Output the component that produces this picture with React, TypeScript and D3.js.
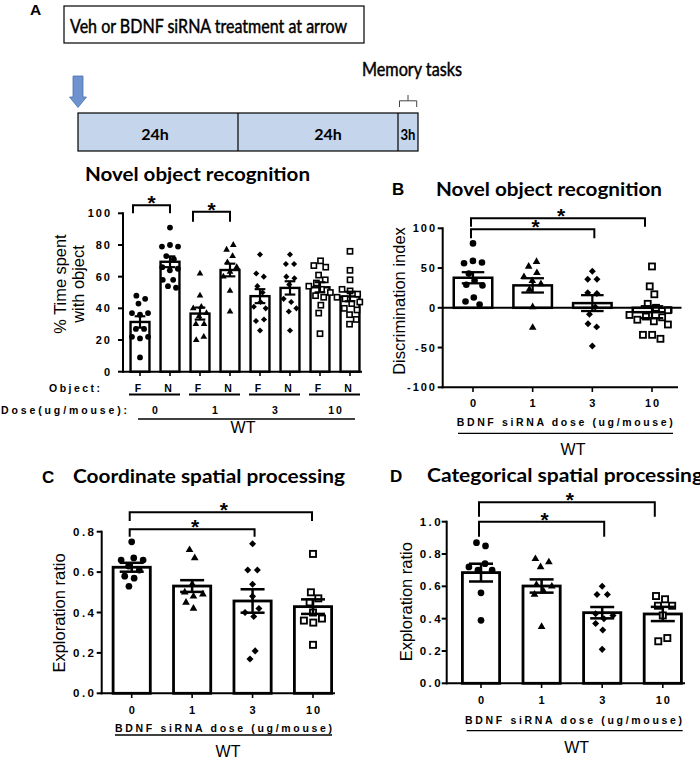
import React from 'react';
import * as d3 from 'd3';

// ---------- Panel A: Novel object recognition (% time spent) ----------
const norGroups = ['0F', '0N', '1F', '1N', '3F', '3N', '10F', '10N'];
const norObjects = ['F', 'N', 'F', 'N', 'F', 'N', 'F', 'N'];
const norDoses = ['0', '1', '3', '10'];
const norShapes = ['circle', 'circle', 'triangle', 'triangle', 'diamond', 'diamond', 'square', 'square'];
const norMeans = [31.4, 69.4, 36.7, 64.2, 47.7, 52.9, 53.3, 47.5];
const norSems = [3.6, 3.4, 3.8, 4.0, 4.4, 4.2, 3.2, 3.0];
const nor0F = [48, 46, 43, 37, 36, 37, 27, 27, 22, 22, 21, 9];
const nor0N = [91, 80, 79, 79, 73, 71, 66, 64, 65, 58, 58, 53, 54];
const nor1F = [62, 48, 41, 40, 37, 35, 30, 30, 22, 20];
const nor1N = [80, 77, 73, 69, 66, 63, 60, 51, 38];
const nor3F = [74, 62, 60, 54, 50, 44, 41, 40, 33, 32, 26];
const nor3N = [74, 68, 68, 60, 59, 55, 46, 44, 40, 38, 26];
const nor10F = [70, 67, 66, 61, 58, 56, 54, 52, 50, 48, 47, 42, 37, 24];
const nor10N = [76, 64, 58, 52, 51, 49, 47, 46, 44, 43, 40, 39, 36, 33, 30];
const norTicks = [0, 20, 40, 60, 80, 100];
const norSig = [['0F', '0N'], ['1F', '1N']];

// ---------- Shared dose categories ----------
const doseLabels = ['0', '1', '3', '10'];
const doseShapes = ['circle', 'triangle', 'diamond', 'square'];

// ---------- Panel B: Discrimination index ----------
const diMeans = [37.8, 28.2, 5.9, -5.5];
const diSems = [7, 9, 10, 7.5];
const di0 = [81, 59, 57, 56, 43, 34, 29, 28, 13, 8, 4];
const di1 = [58, 52, 44, 39, 34, 30, 23, 1, -25];
const di3 = [46, 36, 36, 19, 18, 1, -8, -20, -24, -48];
const di10 = [52, 27, 17, 5, 0, -3, -9, -11, -12, -15, -17, -21, -34, -34, -39];
const diTicks = [-100, -50, 0, 50, 100];

// ---------- Panel C: Coordinate spatial processing ----------
const coordMeans = [0.624, 0.531, 0.457, 0.429];
const coordSems = [0.022, 0.029, 0.058, 0.036];
const coord0 = [0.75, 0.67, 0.66, 0.66, 0.63, 0.61, 0.58, 0.57, 0.53];
const coord1 = [0.71, 0.67, 0.54, 0.5, 0.49, 0.48, 0.45, 0.42];
const coord3 = [0.74, 0.61, 0.61, 0.54, 0.48, 0.42, 0.4, 0.38, 0.21, 0.17];
const coord10 = [0.69, 0.5, 0.47, 0.45, 0.4, 0.37, 0.36, 0.35, 0.24];
const coordTicks = [0, 0.2, 0.4, 0.6, 0.8];

// ---------- Panel D: Categorical spatial processing ----------
const catMeans = [0.685, 0.602, 0.437, 0.429];
const catSems = [0.055, 0.041, 0.035, 0.044];
const cat0 = [0.87, 0.85, 0.74, 0.72, 0.7, 0.7, 0.56, 0.39];
const cat1 = [0.77, 0.75, 0.72, 0.61, 0.6, 0.57, 0.55, 0.35];
const cat3 = [0.6, 0.55, 0.55, 0.43, 0.42, 0.4, 0.37, 0.33, 0.21];
const cat10 = [0.54, 0.52, 0.48, 0.48, 0.42, 0.28, 0.26];
const catTicks = [0, 0.2, 0.4, 0.6, 0.8, 1.0];

const doseSig = [['0', '3'], ['0', '10']];

const AR = "'Liberation Sans', Arial, Helvetica, sans-serif";
const LT = "Lato, 'Open Sans', sans-serif";

function beeswarm(vals: number[], cx: number, y: (v: number) => number, rad: number) {
  const nodes: any[] = vals.map((v, i) => ({ x: cx + ((i % 3) - 1) * 0.4, y: y(v), fy: y(v) }));
  const sim = d3
    .forceSimulation(nodes)
    .force('x', d3.forceX(cx).strength(0.05))
    .force('c', d3.forceCollide(rad).iterations(3))
    .stop();
  for (let k = 0; k < 300; k++) sim.tick();
  return nodes.map((n) => [n.x, n.fy]);
}

function Marker({ shape, x, y, s }: { shape: string; x: number; y: number; s: number }) {
  if (shape === 'circle') return <circle cx={x} cy={y} r={s} fill="#000" />;
  if (shape === 'triangle') {
    const p = d3.symbol(d3.symbolTriangle, s * s * 2.3)() as string;
    return <path d={p} transform={`translate(${x},${y})`} fill="#000" />;
  }
  if (shape === 'diamond') {
    const r = s * 1.05;
    return <path d={`M${x},${y - r}L${x + r},${y}L${x},${y + r}L${x - r},${y}Z`} fill="#000" />;
  }
  return <rect x={x - s + 0.3} y={y - s + 0.3} width={2 * s - 0.6} height={2 * s - 0.6} fill="#fff" stroke="#000" strokeWidth={s * 0.55} />;
}

function BarSet(props: any) {
  const { groups, means, sems, points, shapes, x, y, bw, ms, sw, coll, cap } = props;
  const y0 = y(0);
  return (
    <g>
      {groups.map((g: string, i: number) => {
        const cx = x(g);
        const ym = y(means[i]);
        return (
          <rect key={'b' + g} x={cx - bw / 2 + sw / 2} y={Math.min(ym, y0)} width={bw - sw} height={Math.abs(y0 - ym)} fill="#fff" stroke="#000" strokeWidth={sw} />
        );
      })}
      {groups.map((g: string, i: number) => {
        const cx = x(g);
        return beeswarm(points[i], cx, y, coll).map((p, j) => <Marker key={g + 'p' + j} shape={shapes[i]} x={p[0]} y={p[1]} s={ms} />);
      })}
      {groups.map((g: string, i: number) => {
        const cx = x(g);
        const yt = y(means[i] + sems[i]);
        const yb = y(means[i] - sems[i]);
        const c = bw * cap;
        return (
          <g key={'e' + g} stroke="#000" strokeWidth={sw * 0.9}>
            <line x1={cx} x2={cx} y1={yt} y2={yb} />
            <line x1={cx - c / 2} x2={cx + c / 2} y1={yt} y2={yt} />
            <line x1={cx - c / 2} x2={cx + c / 2} y1={yb} y2={yb} />
          </g>
        );
      })}
    </g>
  );
}

function YAxis(props: any) {
  const { y, x0, ticks, fmt, fs, ls, tickLen, labelRight, sw } = props;
  const r = y.range();
  return (
    <g>
      <line x1={x0} x2={x0} y1={r[0] + sw / 2} y2={r[1] - sw / 2} stroke="#000" strokeWidth={sw} />
      {ticks.map((t: number) => (
        <g key={t}>
          <line x1={x0 - tickLen} x2={x0} y1={y(t)} y2={y(t)} stroke="#000" strokeWidth={sw} />
          <text x={labelRight + ls} y={y(t)} dy="0.36em" textAnchor="end" fontFamily={AR} fontWeight="bold" fontSize={fs} letterSpacing={ls}>
            {fmt(t)}
          </text>
        </g>
      ))}
    </g>
  );
}

function Star({ x, y, fs = 21 }: { x: number; y: number; fs?: number }) {
  return (
    <text x={x} y={y + 0.57 * fs} textAnchor="middle" fontFamily={AR} fontWeight="bold" fontSize={fs}>
      *
    </text>
  );
}

function Bracket({ x1, x2, yTop, yBot, starX, starY }: any) {
  return (
    <g>
      <path d={`M${x1},${yBot}V${yTop}H${x2}V${yBot}`} fill="none" stroke="#000" strokeWidth={2} />
      <Star x={starX} y={starY} />
    </g>
  );
}

function RotLabel({ lines, y, fs }: any) {
  return (
    <g>
      {lines.map((l: any, i: number) => (
        <text key={i} transform={`translate(${l.bx},${y}) rotate(-90)`} textAnchor="middle" fontFamily={AR} fontSize={fs}>
          {l.t}
        </text>
      ))}
    </g>
  );
}

export default function App() {
  const xA = d3.scalePoint<string>().domain(norGroups).range([140, 350]);
  const yA = d3.scaleLinear().domain([0, 100]).range([371.7, 213.3]);
  const norPoints = [nor0F, nor0N, nor1F, nor1N, nor3F, nor3N, nor10F, nor10N];

  const xB = d3.scalePoint<string>().domain(doseLabels).range([473, 652]);
  const yB = d3.scaleLinear().domain([-100, 100]).range([387.3, 228.3]);

  const xC = d3.scalePoint<string>().domain(doseLabels).range([131.7, 313]);
  const yC = d3.scaleLinear().domain([0, 0.8]).range([693.3, 531.7]);

  const xD = d3.scalePoint<string>().domain(doseLabels).range([481, 662.8]);
  const yD = d3.scaleLinear().domain([0, 1]).range([683.3, 521.7]);

  const f1 = d3.format('.1f');
  const fInt = (v: number) => String(v);

  const sigA = norSig.map((p, i) => {
    const a = xA(p[0])! - 7;
    const b = xA(p[1])!;
    const lv = [[205.3, 213.3], [211.7, 221.7]][i];
    return <Bracket key={'sa' + i} x1={a} x2={b} yTop={lv[0]} yBot={lv[1]} starX={(a + b) / 2} starY={lv[0] - 7} />;
  });

  const doseBrackets = (x: any, levels: number[][], offs: number[]) =>
    doseSig.map((p, i) => {
      const a = x(p[0])! - 2;
      const b = x(p[1])! + offs[i];
      return <Bracket key={'sd' + i} x1={a} x2={b} yTop={levels[i][0]} yBot={levels[i][1]} starX={(a + b) / 2 + 3} starY={levels[i][0] - 7} />;
    });

  const pairCenters = norDoses.map((d, i) => (xA(norGroups[2 * i])! + xA(norGroups[2 * i + 1])!) / 2);
  const heavy = { stroke: '#000', strokeWidth: 0.45 };

  return (
    <svg width={700} height={759} style={{ position: 'absolute', left: 0, top: 0, background: '#fff' }}>
      <rect x={0} y={0} width={700} height={759} fill="#fff" />

      {/* ===== Panel A header timeline ===== */}
      <text x={30} y={15} fontFamily={AR} fontWeight="bold" fontSize={15.5}>A</text>
      <rect x={64} y={6} width={300} height={37} fill="#fff" stroke="#000" strokeWidth={1.2} />
      <text x={70} y={32.5} fontFamily={LT} fontSize={18.5} {...heavy} textLength={277} lengthAdjust="spacingAndGlyphs">
        Veh or BDNF siRNA treatment at arrow
      </text>
      <path d="M73,76H83V97H86.5L78,107.5L69.5,97H73Z" fill="#6d92cd" stroke="#4d72ad" strokeWidth={0.8} />
      <rect x={78} y={113} width={340} height={38} fill="#c5d5eb" stroke="#000" strokeWidth={1.2} />
      <line x1={238} x2={238} y1={113} y2={151} stroke="#000" strokeWidth={1.2} />
      <line x1={398} x2={398} y1={113} y2={151} stroke="#000" strokeWidth={1.2} />
      <text x={155} y={140} textAnchor="middle" fontFamily={LT} fontWeight="bold" fontSize={16}>24h</text>
      <text x={328} y={140} textAnchor="middle" fontFamily={LT} fontWeight="bold" fontSize={16}>24h</text>
      <text x={408} y={140} textAnchor="middle" fontFamily={LT} fontWeight="bold" fontSize={15} textLength={15} lengthAdjust="spacingAndGlyphs">3h</text>
      <text x={362} y={76} fontFamily={LT} fontSize={18.5} {...heavy} textLength={100} lengthAdjust="spacingAndGlyphs">Memory tasks</text>
      <path d="M399.5,107V100.8H416.7V107M408,100.8V95" fill="none" stroke="#444" strokeWidth={1} />

      {/* ===== Panel A chart ===== */}
      <text x={85} y={180.7} fontFamily={LT} fontWeight="bold" fontSize={19.5} textLength={225} lengthAdjust="spacingAndGlyphs">
        Novel object recognition
      </text>
      <RotLabel lines={[{ t: '% Time spent', bx: 66 }, { t: 'with object', bx: 83.5 }]} y={284} fs={16.4} />
      <BarSet groups={norGroups} means={norMeans} sems={norSems} points={norPoints} shapes={norShapes} x={xA} y={yA} bw={21.3} ms={2.9} sw={2.4} coll={4.1} cap={0.5} />
      <YAxis y={yA} x0={123} ticks={norTicks} fmt={fInt} fs={11} ls={2} tickLen={5} labelRight={110} sw={2} />
      <line x1={122} x2={362} y1={371.7} y2={371.7} stroke="#000" strokeWidth={2} />
      {norGroups.map((g) => (
        <line key={'tA' + g} x1={xA(g)} x2={xA(g)} y1={371.7} y2={376} stroke="#000" strokeWidth={1.6} />
      ))}
      {sigA}
      <text x={49} y={392} fontFamily={AR} fontWeight="bold" fontSize={10.5} textLength={51} lengthAdjust="spacing">Object:</text>
      <text x={1} y={414} fontFamily={AR} fontWeight="bold" fontSize={10.5} textLength={126} lengthAdjust="spacing">Dose(ug/mouse):</text>
      {norGroups.map((g, i) => (
        <text key={'o' + g} x={xA(g)! - 2} y={392} textAnchor="middle" fontFamily={AR} fontWeight="bold" fontSize={10.5}>
          {norObjects[i]}
        </text>
      ))}
      {norDoses.map((d, i) => (
        <g key={'d' + d}>
          <line x1={pairCenters[i] - 26} x2={pairCenters[i] + 25} y1={394.5} y2={394.5} stroke="#000" strokeWidth={2} />
          <text x={pairCenters[i] + 1} y={414} textAnchor="middle" fontFamily={AR} fontWeight="bold" fontSize={10.5} letterSpacing={2}>
            {d}
          </text>
        </g>
      ))}
      <line x1={138} x2={355} y1={419} y2={419} stroke="#000" strokeWidth={1.3} />
      <text x={243} y={433} textAnchor="middle" fontFamily={AR} fontSize={16}>WT</text>

      {/* ===== Panel B ===== */}
      <text x={392} y={195} fontFamily={AR} fontWeight="bold" fontSize={17}>B</text>
      <text x={436} y={195.7} fontFamily={LT} fontWeight="bold" fontSize={19.5} textLength={226} lengthAdjust="spacingAndGlyphs">
        Novel object recognition
      </text>
      <RotLabel lines={[{ t: 'Discrimination index', bx: 405 }]} y={301} fs={16.5} />
      <BarSet groups={doseLabels} means={diMeans} sems={diSems} points={[di0, di1, di3, di10]} shapes={doseShapes} x={xB} y={yB} bw={41} ms={3.3} sw={2.5} coll={4.6} cap={0.55} />
      <line x1={442} x2={681.5} y1={yB(0)} y2={yB(0)} stroke="#000" strokeWidth={2} />
      <YAxis y={yB} x0={442.7} ticks={diTicks} fmt={fInt} fs={11} ls={2} tickLen={5} labelRight={435} sw={2} />
      <line x1={441.7} x2={678} y1={387.3} y2={387.3} stroke="#000" strokeWidth={2} />
      {doseLabels.map((d) => (
        <g key={'xb' + d}>
          <line x1={xB(d)} x2={xB(d)} y1={387.3} y2={392} stroke="#000" strokeWidth={1.6} />
          <text x={xB(d)! + 1} y={407.3} textAnchor="middle" fontFamily={AR} fontWeight="bold" fontSize={11} letterSpacing={2}>{d}</text>
        </g>
      ))}
      <text x={456.7} y={425.5} fontFamily={AR} fontWeight="bold" fontSize={10.5} textLength={216} lengthAdjust="spacing">BDNF siRNA dose (ug/mouse)</text>
      <line x1={458} x2={673} y1={433.3} y2={433.3} stroke="#000" strokeWidth={1.3} />
      <text x={573} y={455} textAnchor="middle" fontFamily={AR} fontSize={16}>WT</text>
      {doseBrackets(xB, [[229.3, 238.3], [218.3, 226.7]], [2, -7])}

      {/* ===== Panel C ===== */}
      <text x={42} y={483.3} fontFamily={AR} fontWeight="bold" fontSize={17}>C</text>
      <text x={73} y={483.3} fontFamily={LT} fontWeight="bold" fontSize={19.5} textLength={272} lengthAdjust="spacingAndGlyphs">
        Coordinate spatial processing
      </text>
      <RotLabel lines={[{ t: 'Exploration ratio', bx: 64.5 }]} y={613} fs={16.5} />
      <BarSet groups={doseLabels} means={coordMeans} sems={coordSems} points={[coord0, coord1, coord3, coord10]} shapes={doseShapes} x={xC} y={yC} bw={40} ms={3.35} sw={2.8} coll={4.8} cap={0.6} />
      <YAxis y={yC} x0={101.7} ticks={coordTicks} fmt={f1} fs={11.5} ls={2.5} tickLen={5} labelRight={94} sw={2} />
      <line x1={100.7} x2={335} y1={693.3} y2={693.3} stroke="#000" strokeWidth={2} />
      {doseLabels.map((d) => (
        <g key={'xc' + d}>
          <line x1={xC(d)} x2={xC(d)} y1={693.3} y2={698} stroke="#000" strokeWidth={1.6} />
          <text x={xC(d)! + 1} y={714} textAnchor="middle" fontFamily={AR} fontWeight="bold" fontSize={11} letterSpacing={2}>{d}</text>
        </g>
      ))}
      <text x={115} y={732} fontFamily={AR} fontWeight="bold" fontSize={10.5} textLength={217} lengthAdjust="spacing">BDNF siRNA dose (ug/mouse)</text>
      <line x1={115} x2={332} y1={735} y2={735} stroke="#000" strokeWidth={1.3} />
      <text x={228} y={757} textAnchor="middle" fontFamily={AR} fontSize={16}>WT</text>
      {doseBrackets(xC, [[529.3, 536.7], [512.3, 521]], [2, -1])}

      {/* ===== Panel D ===== */}
      <text x={390} y={482} fontFamily={AR} fontWeight="bold" fontSize={17}>D</text>
      <text x={427} y={482} fontFamily={LT} fontWeight="bold" fontSize={19.5} textLength={276} lengthAdjust="spacingAndGlyphs">
        Categorical spatial processing
      </text>
      <RotLabel lines={[{ t: 'Exploration ratio', bx: 411.8 }]} y={601.7} fs={16.5} />
      <BarSet groups={doseLabels} means={catMeans} sems={catSems} points={[cat0, cat1, cat3, cat10]} shapes={doseShapes} x={xD} y={yD} bw={40} ms={3.35} sw={2.8} coll={4.8} cap={0.6} />
      <YAxis y={yD} x0={446.7} ticks={catTicks} fmt={f1} fs={11.5} ls={2.5} tickLen={5} labelRight={440.7} sw={2} />
      <line x1={445.7} x2={685} y1={683.3} y2={683.3} stroke="#000" strokeWidth={2} />
      {doseLabels.map((d) => (
        <g key={'xd' + d}>
          <line x1={xD(d)} x2={xD(d)} y1={683.3} y2={688} stroke="#000" strokeWidth={1.6} />
          <text x={xD(d)! + 1} y={704} textAnchor="middle" fontFamily={AR} fontWeight="bold" fontSize={11} letterSpacing={2}>{d}</text>
        </g>
      ))}
      <text x={465} y={723.5} fontFamily={AR} fontWeight="bold" fontSize={10.5} textLength={217} lengthAdjust="spacing">BDNF siRNA dose (ug/mouse)</text>
      <line x1={466.7} x2={682.7} y1={730.7} y2={730.7} stroke="#000" strokeWidth={1.3} />
      <text x={576.7} y={752.7} textAnchor="middle" fontFamily={AR} fontSize={16}>WT</text>
      {doseBrackets(xD, [[521.7, 536.7], [502.3, 516.7]], [2, -8])}
    </svg>
  );
}
